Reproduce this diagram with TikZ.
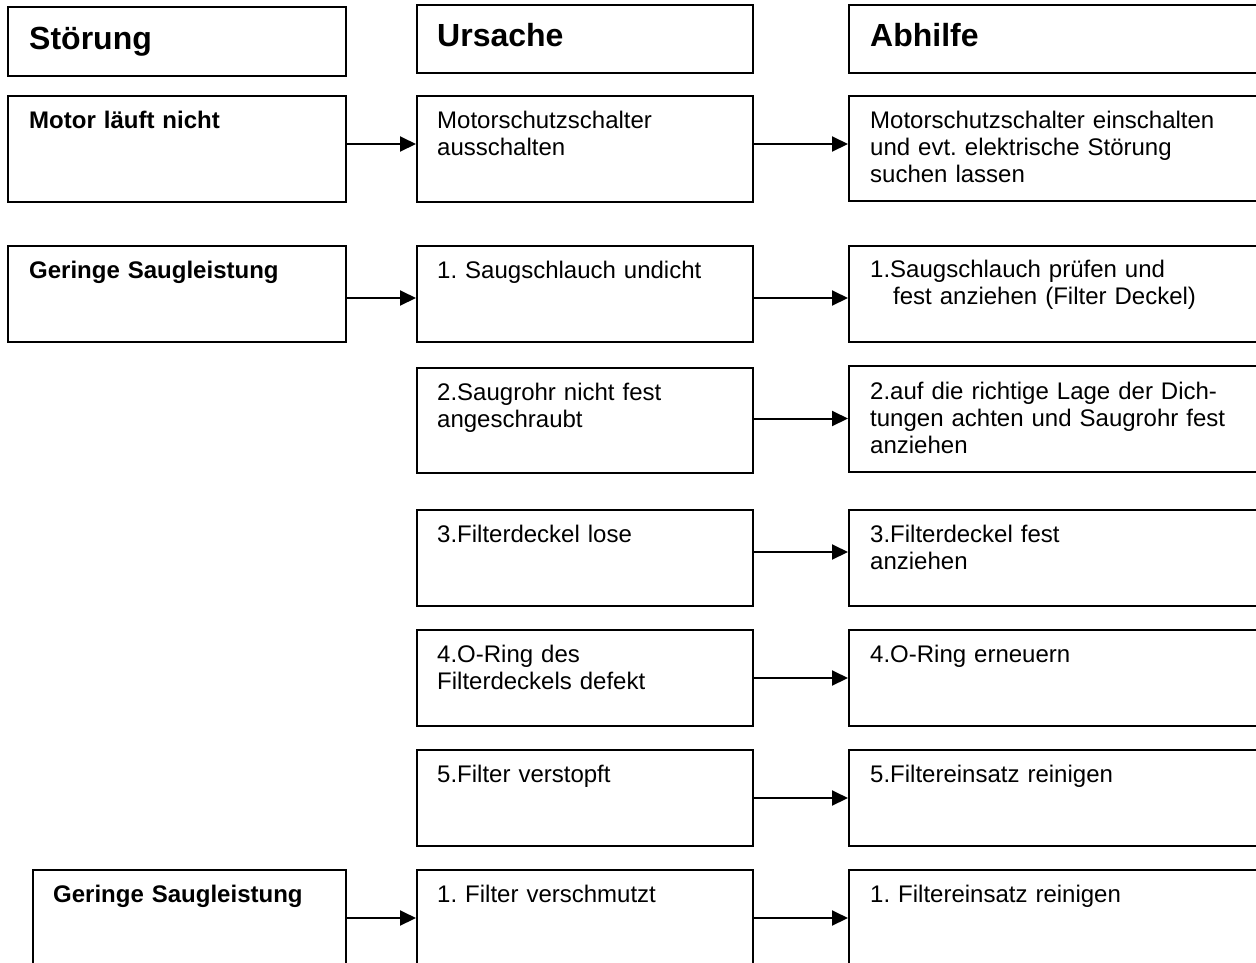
\documentclass[tikz,border=0pt]{standalone}
\usepackage{fontspec}
\setmainfont{Liberation Sans}
\usetikzlibrary{fit,arrows.meta}
\frenchspacing
\begin{document}
\frenchspacing
\begin{tikzpicture}[x=1pt,y=-1pt,
  box/.style={draw=black, line width=2pt, inner sep=0pt, rectangle},
  arr/.style={draw=black, line width=2pt, -{Triangle[length=16pt,width=15pt]}},
  txt/.style={anchor=base west, inner sep=0pt, text width=390pt, align=left, font=\fontsize{24}{27}\selectfont},
  lbl/.style={txt, font=\fontsize{24}{27}\selectfont\bfseries},
  head/.style={txt, font=\fontsize{32}{38}\selectfont\bfseries}]
\useasboundingbox (0,0) rectangle (1256,962);
% headers
\node[box, fit={(8,7) (346,76)}] (h1) {};
\node[box, fit={(417,5) (753,73)}] (h2) {};
\node[box, fit={(849,5) (1275,73)}] (h3) {};
% row 1
\node[box, fit={(8,96) (346,202)}] (a1) {};
\node[box, fit={(417,96) (753,202)}] (b1) {};
\node[box, fit={(849,96) (1275,201)}] (c1) {};
% row 2
\node[box, fit={(8,246) (346,342)}] (a2) {};
\node[box, fit={(417,246) (753,342)}] (b2) {};
\node[box, fit={(849,246) (1275,342)}] (c2) {};
% row 3
\node[box, fit={(417,368) (753,473)}] (b3) {};
\node[box, fit={(849,366) (1275,472)}] (c3) {};
% row 4
\node[box, fit={(417,510) (753,606)}] (b4) {};
\node[box, fit={(849,510) (1275,606)}] (c4) {};
% row 5
\node[box, fit={(417,630) (753,726)}] (b5) {};
\node[box, fit={(849,630) (1275,726)}] (c5) {};
% row 6
\node[box, fit={(417,750) (753,846)}] (b6) {};
\node[box, fit={(849,750) (1275,846)}] (c6) {};
% row 7
\node[box, fit={(33,870) (346,966)}] (a7) {};
\node[box, fit={(417,870) (753,966)}] (b7) {};
\node[box, fit={(849,870) (1275,966)}] (c7) {};

% texts
\node[head] (th1) at ([xshift=22pt,yshift=-43pt]h1.north west) {Störung};
\node[head] (th2) at ([xshift=21pt,yshift=-42pt]h2.north west) {Ursache};
\node[head] (th3) at ([xshift=22pt,yshift=-42pt]h3.north west) {Abhilfe};

\node[lbl] (ta1) at ([xshift=22pt,yshift=-33pt]a1.north west) {Motor läuft nicht};
\node[txt] (tb1) at ([xshift=21pt,yshift=-33pt]b1.north west) {Motorschutzschalter\\ausschalten};
\node[txt] (tc1) at ([xshift=22pt,yshift=-33pt]c1.north west) {Motorschutzschalter einschalten\\und evt. elektrische Störung\\suchen lassen};

\node[lbl] (ta2) at ([xshift=22pt,yshift=-33pt]a2.north west) {Geringe Saugleistung};
\node[txt] (tb2) at ([xshift=21pt,yshift=-33pt]b2.north west) {1. Saugschlauch undicht};
\node[txt] (tc2) at ([xshift=22pt,yshift=-32pt]c2.north west) {1.Saugschlauch prüfen und\\\hspace*{23pt}fest anziehen (Filter Deckel)};

\node[txt] (tb3) at ([xshift=21pt,yshift=-33pt]b3.north west) {2.Saugrohr nicht fest\\angeschraubt};
\node[txt] (tc3) at ([xshift=22pt,yshift=-34pt]c3.north west) {2.auf die richtige Lage der Dich-\\tungen achten und Saugrohr fest\\anziehen};

\node[txt] (tb4) at ([xshift=21pt,yshift=-33pt]b4.north west) {3.Filterdeckel lose};
\node[txt] (tc4) at ([xshift=22pt,yshift=-33pt]c4.north west) {3.Filterdeckel fest\\anziehen};

\node[txt] (tb5) at ([xshift=21pt,yshift=-33pt]b5.north west) {4.O-Ring des\\Filterdeckels defekt};
\node[txt] (tc5) at ([xshift=22pt,yshift=-33pt]c5.north west) {4.O-Ring erneuern};

\node[txt] (tb6) at ([xshift=21pt,yshift=-33pt]b6.north west) {5.Filter verstopft};
\node[txt] (tc6) at ([xshift=22pt,yshift=-33pt]c6.north west) {5.Filtereinsatz reinigen};

\node[lbl] (ta7) at ([xshift=21pt,yshift=-33pt]a7.north west) {Geringe Saugleistung};
\node[txt] (tb7) at ([xshift=21pt,yshift=-33pt]b7.north west) {1. Filter verschmutzt};
\node[txt] (tc7) at ([xshift=22pt,yshift=-33pt]c7.north west) {1. Filtereinsatz reinigen};

% arrows
\draw[arr] ([yshift=5pt]a1.east) -- ([yshift=5pt]b1.west);
\draw[arr] ([yshift=5pt]b1.east) -- ([yshift=5pt]b1.east -| c1.west);
\draw[arr] ([yshift=-4pt]a2.east) -- ([yshift=-4pt]b2.west);
\draw[arr] ([yshift=-4pt]b2.east) -- ([yshift=-4pt]c2.west);
\draw[arr] ([yshift=2pt]b3.east) -- ([yshift=2pt]b3.east -| c3.west);
\draw[arr] ([yshift=6pt]b4.east) -- ([yshift=6pt]c4.west);
\draw[arr] (b5.east) -- (c5.west);
\draw[arr] (b6.east) -- (c6.west);
\draw[arr] (a7.east) -- (b7.west);
\draw[arr] (b7.east) -- (c7.west);
\end{tikzpicture}
\end{document}
